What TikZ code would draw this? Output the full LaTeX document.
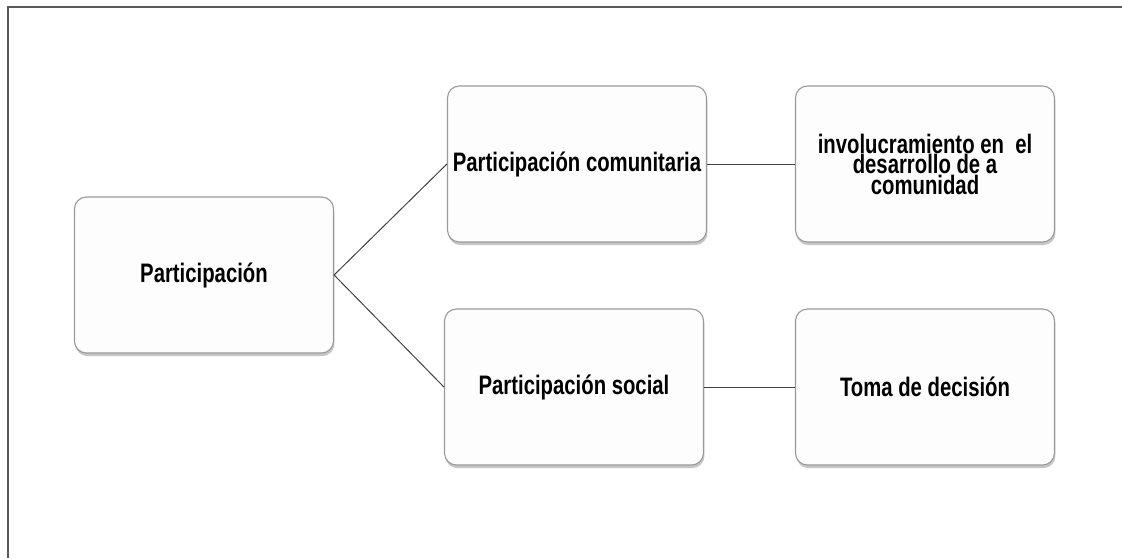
\documentclass[tikz,border=0pt]{standalone}
\usepackage{fontspec}
\newfontfamily\cajafont[FakeStretch=0.76]{Liberation Sans}
\usepackage{tikz}
\usetikzlibrary{shadows}
\definecolor{marcogris}{HTML}{5A5A5A}
\definecolor{bordegris}{HTML}{9A9A9A}
\definecolor{fondocaja}{HTML}{FDFDFD}

\begin{document}
\begin{tikzpicture}[x=0.025cm,y=-0.025cm,
  caja/.style={draw=bordegris, fill=fondocaja, line width=0.8pt,
    rounded corners=0.3cm, minimum width=6.475cm, minimum height=3.9cm,
    inner sep=0pt, align=center,
    font=\cajafont\bfseries\fontsize{19}{14.6}\selectfont,
    drop shadow={shadow xshift=0.6pt, shadow yshift=-2.2pt, opacity=0.45}},
  linea/.style={draw=black!75, line width=0.7pt}]
\useasboundingbox (0,0) rectangle (1122,558);
\draw[marcogris, line width=1.4pt] (8,558) -- (8,7) -- (1122,7);

\node[caja] (part) at (204,275) {Participación};
\node[caja] (comu) at (577,164) {Participación comunitaria};
\node[caja] (soc) at (574,387) {Participación social};
\node[caja] (invo) at (925,164) {involucramiento en\ \ el\\desarrollo de a\\comunidad};
\node[caja] (toma) at (925,387) {Toma de decisión};

\draw[linea] (part.east) -- (comu.west);
\draw[linea] (part.east) -- (soc.west);
\draw[linea] (comu) -- (invo);
\draw[linea] (soc) -- (toma);
\end{tikzpicture}
\end{document}
